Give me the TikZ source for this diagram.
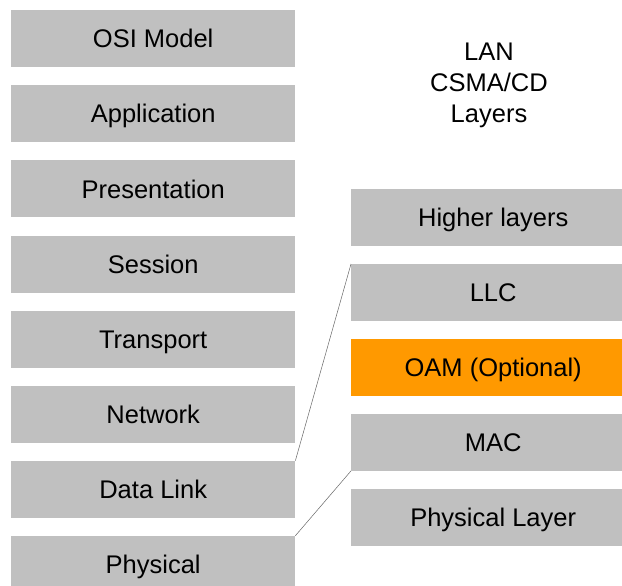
\documentclass[tikz,border=0pt]{standalone}
\usepackage{fontspec}
\setmainfont{Liberation Sans}
\usepackage{xcolor}
\definecolor{layergray}{HTML}{C0C0C0}
\definecolor{oamorange}{HTML}{FF9900}
\tikzset{
  layer/.style={fill=layergray,anchor=north west,minimum width=284pt,minimum height=57pt,
    inner sep=0pt,text height=18.3pt,text depth=0pt,font=\fontsize{25.5}{30}\selectfont},
  link/.style={draw=black!60,line width=0.5pt}
}
\begin{document}
\begin{tikzpicture}[x=1pt,y=-1pt]
\useasboundingbox (0,0) rectangle (622,586);

% OSI stack
\node[layer] (osi) at (11,10) {OSI Model};
\node[layer] (app) at (11,85.1) {Application};
\node[layer] (pres) at (11,160.2) {Presentation};
\node[layer] (sess) at (11,235.3) {Session};
\node[layer] (trans) at (11,310.4) {Transport};
\node[layer] (net) at (11,385.5) {Network};
\node[layer] (dl) at (11,460.6) {Data Link};
\node[layer] (phys) at (11,535.7) {Physical};

% LAN stack
\node[align=center,font=\fontsize{25.5}{31}\selectfont] (lan) at (489,85) {LAN\\CSMA/CD\\Layers};
\node[layer] (higher) at (351,189) {Higher layers};
\node[layer] (llc) at (351,264) {LLC};
\node[layer,fill=oamorange] (oam) at (351,338.5) {OAM (Optional)};
\node[layer] (mac) at (351,413.5) {MAC};
\node[layer] (physl) at (351,489) {Physical Layer};

\draw[link] (dl.north east) -- (llc.north west);
\draw[link] (phys.north east) -- (mac.south west);
\end{tikzpicture}
\end{document}
